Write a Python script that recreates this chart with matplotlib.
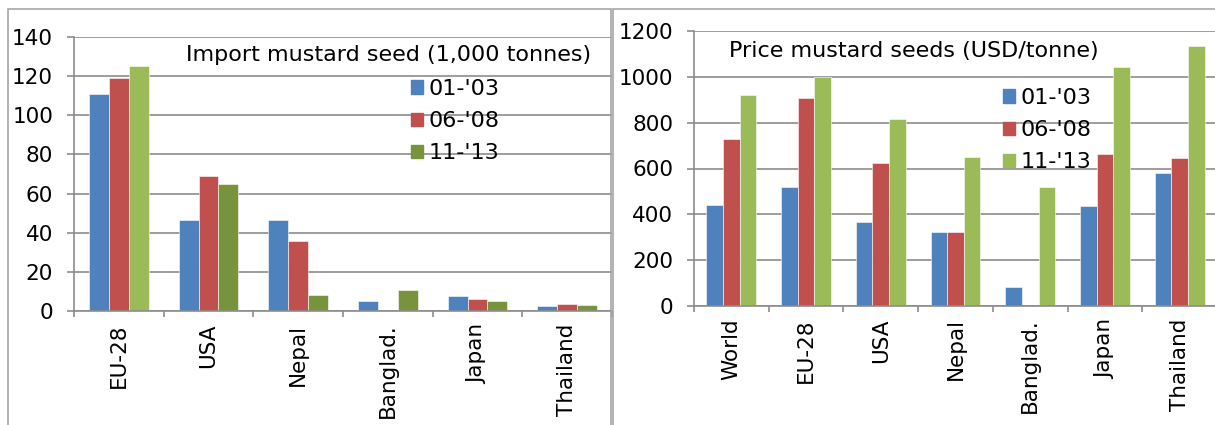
import numpy as np
import matplotlib.pyplot as plt
from matplotlib.patches import Patch, Rectangle

# import volumes, 1,000 tonnes
import_countries = ["EU-28", "USA", "Nepal", "Banglad.", "Japan", "Thailand"]
import_0103 = [111, 46.5, 46.5, 5, 7.8, 2.7]
import_0608 = [119, 69, 36, 0, 6.1, 3.4]
import_1113 = [125, 65, 8, 10.6, 5.1, 3.1]

# prices, USD/tonne
price_countries = ["World", "EU-28", "USA", "Nepal", "Banglad.", "Japan", "Thailand"]
price_0103 = [440, 520, 366, 325, 81, 437, 580]
price_0608 = [730, 907, 623, 322, 0, 662, 645]
price_1113 = [922, 1000, 815, 649, 520, 1045, 1136]

periods = ["01-'03", "06-'08", "11-'13"]

BLUE = "#4F81BD"
RED = "#C0504D"
GREEN = "#9BBB59"
DARK_GREEN = "#77933C"
GRID = "#8C8C8C"
TICK_FONT = 15.5
TEXT_FONT = 16

W, H = 1215, 425
plt.rcParams["font.family"] = "DejaVu Sans"


def px_rect(x0, y0, x1, y1):
    # figure-fraction box from pixel edges (y measured from top)
    return [x0 / W, 1 - y1 / H, (x1 - x0) / W, (y1 - y0) / H]


def style_axes(ax, n, ymax, ystep):
    ax.set_xlim(-0.5, n - 0.5)
    ax.set_ylim(0, ymax)
    ax.set_yticks(np.arange(0, ymax + 1, ystep))
    ax.grid(axis="y", color=GRID, linewidth=1.2)
    ax.set_axisbelow(True)
    for side in ("top", "right"):
        ax.spines[side].set_visible(False)
    for side in ("left", "bottom"):
        ax.spines[side].set_color(GRID)
        ax.spines[side].set_linewidth(1.2)
    ax.tick_params(axis="y", length=5, width=1.2, color=GRID, labelsize=TICK_FONT, pad=10)
    ax.tick_params(axis="x", which="major", length=0, labelsize=TICK_FONT, pad=9)
    ax.set_xticks(np.arange(-0.5, n, 1.0), minor=True)
    ax.tick_params(axis="x", which="minor", length=4.5, width=1.2, color=GRID)


def grouped_bars(ax, cats, series, colors):
    x = np.arange(len(cats))
    w = 1 / 4.5
    for i, (vals, col) in enumerate(zip(series, colors)):
        ax.bar(x + (i - 1) * w, vals, width=w, color=col, edgecolor="white", linewidth=0.4)
    ax.set_xticks(x)
    ax.set_xticklabels(cats, rotation=90, va="top", ha="center")


def add_legend(colors, x, y):
    handles = [Patch(color=c) for c in colors]
    fig.legend(handles, periods, loc="upper left", bbox_to_anchor=(x / W, 1 - y / H),
               frameon=False, fontsize=TEXT_FONT, handlelength=0.55, handleheight=0.55,
               handletextpad=0.25, labelspacing=0.55, borderpad=0, borderaxespad=0)


fig = plt.figure(figsize=(W / 100, H / 100), dpi=100)

# panel frames
frame_kw = dict(transform=fig.transFigure, fill=False, edgecolor="#A6A6A6", linewidth=1.2)
fig.add_artist(Rectangle((8 / W, -0.1), 603 / W, 1.1 - 9 / H, **frame_kw))
fig.add_artist(Rectangle((613 / W, -0.1), 0.6, 1.1 - 9 / H, **frame_kw))

# left: imports
ax1 = fig.add_axes(px_rect(74, 37, 612, 311))
green_left = [GREEN] + [DARK_GREEN] * (len(import_countries) - 1)
grouped_bars(ax1, import_countries, [import_0103, import_0608, import_1113],
             [BLUE, RED, green_left])
style_axes(ax1, len(import_countries), 140, 20)
fig.text(186 / W, 1 - 55 / H, "Import mustard seed (1,000 tonnes)",
         fontsize=TEXT_FONT, ha="left", va="center")
add_legend((BLUE, RED, DARK_GREEN), 411, 79)

# right: prices
ax2 = fig.add_axes(px_rect(694, 31, 1217, 306))
grouped_bars(ax2, price_countries, [price_0103, price_0608, price_1113],
             [BLUE, RED, GREEN])
style_axes(ax2, len(price_countries), 1200, 200)
fig.text(729 / W, 1 - 51 / H, "Price mustard seeds (USD/tonne)",
         fontsize=TEXT_FONT, ha="left", va="center")
add_legend((BLUE, RED, GREEN), 1003, 88)

fig.savefig("out.png", dpi=100)
